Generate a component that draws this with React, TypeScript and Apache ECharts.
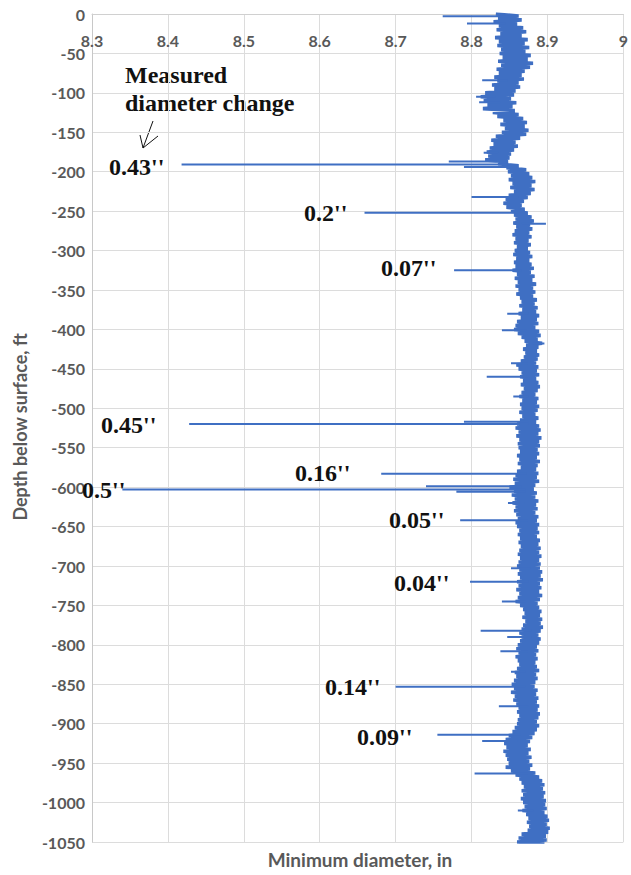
import React, { useEffect, useRef } from "react";
import * as echarts from "echarts";

// Sampling grid of the band (ft below surface): one left/right pair every 5 ft, 0..1050
const SAMPLE_STEP_FT = 5;

// Left (minimum) edge of the noisy band, in
const bandLeft = [
  8.832, 8.835, 8.829, 8.836, 8.833, 8.838, 8.831, 8.836, 8.834, 8.839,
  8.837, 8.841, 8.835, 8.839, 8.833, 8.836, 8.830, 8.834, 8.827, 8.830,
  8.818, 8.812, 8.816, 8.821, 8.815, 8.828, 8.834, 8.842, 8.838, 8.844,
  8.840, 8.832, 8.826, 8.829, 8.824, 8.820, 8.822, 8.818, 8.835, 8.846,
  8.848, 8.852, 8.849, 8.854, 8.851, 8.856, 8.849, 8.845, 8.842, 8.846,
  8.852, 8.856, 8.858, 8.855, 8.859, 8.857, 8.854, 8.858, 8.856, 8.860,
  8.857, 8.855, 8.859, 8.856, 8.858, 8.854, 8.860, 8.857, 8.861, 8.858,
  8.862, 8.859, 8.864, 8.866, 8.863, 8.867, 8.862, 8.865, 8.860, 8.858,
  8.856, 8.861, 8.866, 8.870, 8.872, 8.868, 8.871, 8.869, 8.865, 8.859,
  8.862, 8.866, 8.864, 8.868, 8.865, 8.869, 8.866, 8.863, 8.867, 8.864,
  8.866, 8.863, 8.867, 8.864, 8.860, 8.858, 8.862, 8.859, 8.863, 8.861,
  8.862, 8.864, 8.860, 8.863, 8.861, 8.865, 8.860, 8.858, 8.855, 8.857,
  8.850, 8.856, 8.853, 8.857, 8.854, 8.858, 8.856, 8.859, 8.861, 8.858,
  8.860, 8.863, 8.861, 8.864, 8.862, 8.865, 8.863, 8.861, 8.864, 8.862,
  8.860, 8.863, 8.861, 8.864, 8.860, 8.862, 8.859, 8.863, 8.861, 8.858,
  8.864, 8.868, 8.870, 8.867, 8.871, 8.868, 8.866, 8.863, 8.866, 8.864,
  8.861, 8.859, 8.862, 8.858, 8.861, 8.863, 8.860, 8.857, 8.859, 8.856,
  8.853, 8.856, 8.852, 8.857, 8.855, 8.859, 8.862, 8.860, 8.863, 8.861,
  8.860, 8.857, 8.854, 8.849, 8.845, 8.843, 8.846, 8.842, 8.845, 8.847,
  8.849, 8.845, 8.852, 8.858, 8.863, 8.866, 8.869, 8.866, 8.868, 8.865,
  8.868, 8.870, 8.867, 8.872, 8.875, 8.873, 8.876, 8.874, 8.866, 8.862,
  8.860,
];

// Right (maximum) edge of the noisy band, in
const bandRight = [
  8.862, 8.866, 8.860, 8.868, 8.872, 8.866, 8.874, 8.870, 8.876, 8.871,
  8.878, 8.874, 8.881, 8.877, 8.870, 8.866, 8.869, 8.862, 8.864, 8.858,
  8.856, 8.852, 8.859, 8.854, 8.857, 8.862, 8.868, 8.873, 8.870, 8.875,
  8.872, 8.864, 8.858, 8.861, 8.856, 8.852, 8.850, 8.848, 8.862, 8.872,
  8.876, 8.880, 8.884, 8.879, 8.883, 8.878, 8.874, 8.869, 8.866, 8.870,
  8.874, 8.879, 8.882, 8.877, 8.880, 8.876, 8.879, 8.875, 8.878, 8.874,
  8.877, 8.880, 8.876, 8.879, 8.882, 8.878, 8.883, 8.880, 8.885, 8.881,
  8.884, 8.881, 8.886, 8.883, 8.887, 8.885, 8.889, 8.886, 8.888, 8.884,
  8.889, 8.891, 8.887, 8.893, 8.888, 8.886, 8.889, 8.887, 8.885, 8.888,
  8.886, 8.889, 8.885, 8.888, 8.890, 8.887, 8.884, 8.888, 8.886, 8.889,
  8.887, 8.884, 8.888, 8.885, 8.889, 8.891, 8.888, 8.892, 8.889, 8.890,
  8.887, 8.889, 8.886, 8.890, 8.887, 8.885, 8.888, 8.886, 8.889, 8.884,
  8.882, 8.886, 8.884, 8.888, 8.885, 8.887, 8.884, 8.888, 8.886, 8.889,
  8.887, 8.889, 8.886, 8.890, 8.888, 8.891, 8.889, 8.892, 8.889, 8.891,
  8.890, 8.893, 8.891, 8.894, 8.890, 8.892, 8.889, 8.893, 8.890, 8.887,
  8.889, 8.892, 8.890, 8.893, 8.891, 8.894, 8.891, 8.888, 8.891, 8.889,
  8.886, 8.888, 8.885, 8.887, 8.884, 8.886, 8.889, 8.885, 8.887, 8.884,
  8.883, 8.887, 8.885, 8.888, 8.886, 8.889, 8.887, 8.890, 8.888, 8.886,
  8.889, 8.886, 8.883, 8.880, 8.877, 8.874, 8.878, 8.875, 8.879, 8.876,
  8.880, 8.877, 8.884, 8.889, 8.893, 8.896, 8.894, 8.897, 8.895, 8.898,
  8.897, 8.899, 8.896, 8.900, 8.902, 8.899, 8.903, 8.901, 8.898, 8.899,
  8.896,
];

// Narrow excursions (spikes) of the log: depth (ft) and reading (in)
const spikeDepth = [
  3, 12, 84, 105, 112, 176, 187, 191, 194, 232, 252, 266, 325, 380, 401, 418,
  443, 460, 485, 517, 520, 583, 599, 603, 606, 620, 642, 703, 720, 745, 782,
  790, 808, 834, 853, 878, 914, 922, 963, 1010,
];
const spikeValue = [
  8.762, 8.794, 8.814, 8.806, 8.81, 8.816, 8.77, 8.418, 8.79, 8.8, 8.659, 8.898,
  8.777, 8.847, 8.84, 8.896, 8.852, 8.82, 8.855, 8.79, 8.428, 8.681, 8.74, 8.34,
  8.78, 8.848, 8.785, 8.852, 8.798, 8.84, 8.812, 8.847, 8.838, 8.852, 8.7,
  8.836, 8.755, 8.814, 8.804, 8.861,
];

// Axis ticks
const xTicks = { min: 8.3, max: 9, interval: 0.1 };
const yTicks = { min: -1050, max: 0, interval: 50 };

// Annotations (measured diameter change at each spike)
const changeLabels = [
  "0.43''", "0.2''", "0.07''", "0.45''", "0.16''", "0.5''", "0.05''", "0.04''", "0.14''", "0.09''",
];

export default function App() {
  const ref = useRef<HTMLDivElement>(null);

  useEffect(() => {
    if (!ref.current) return;
    const chart = echarts.init(ref.current, undefined, { renderer: "svg" });

    // band: zig-zag between left and right edge readings
    const band: (number | string)[][] = [];
    for (let i = 0; i < bandLeft.length; i++) {
      band.push([bandLeft[i], -(i * SAMPLE_STEP_FT)]);
      band.push([bandRight[i], -(i * SAMPLE_STEP_FT + SAMPLE_STEP_FT / 2)]);
    }
    // spikes: from the band's middle out to the reading, separated by gaps
    const spikes: (number | string)[][] = [];
    for (let i = 0; i < spikeDepth.length; i++) {
      const k = Math.min(bandLeft.length - 1, Math.round(spikeDepth[i] / SAMPLE_STEP_FT));
      const mid = (bandLeft[k] + bandRight[k]) / 2;
      spikes.push([mid, -spikeDepth[i]]);
      spikes.push([spikeValue[i], -spikeDepth[i]]);
      spikes.push(["-", "-"]);
    }

    const annFont = "bold 24px 'Liberation Serif', 'Times New Roman', serif";
    const gray = "#595959";
    const blue = "#3f6fc3";

    // annotation positions (left x, center y) in pixels
    const annPos = [
      [109, 167], [304, 213], [381, 268], [101, 425], [295, 473],
      [82, 490], [389, 520], [394, 583], [325, 687], [357, 737],
    ];

    chart.setOption({
      animation: false,
      grid: { left: 92, right: 4, top: 14, bottom: 33, containLabel: false },
      xAxis: {
        type: "value",
        position: "top",
        min: xTicks.min,
        max: xTicks.max,
        interval: xTicks.interval,
        axisLine: { show: true, lineStyle: { color: "#d0d0d0", width: 1 } },
        axisTick: { show: false },
        axisLabel: {
          inside: true,
          margin: 18,
          color: gray,
          fontSize: 16,
          fontWeight: "bold",
          fontFamily: "Lato, 'Open Sans', sans-serif",
          formatter: (v: number) => String(Math.round(v * 10) / 10),
        },
        splitLine: { show: true, lineStyle: { color: "#dcdcdc", width: 1 } },
      },
      yAxis: {
        type: "value",
        min: yTicks.min,
        max: yTicks.max,
        interval: yTicks.interval,
        axisLine: { show: true, lineStyle: { color: "#c8c8c8", width: 1 } },
        axisTick: { show: false },
        axisLabel: {
          margin: 7,
          color: gray,
          fontSize: 16,
          fontWeight: "bold",
          fontFamily: "Lato, 'Open Sans', sans-serif",
          formatter: (v: number) => String(v),
        },
        splitLine: { show: true, lineStyle: { color: "#dcdcdc", width: 1 } },
      },
      series: [
        {
          type: "line",
          data: band,
          showSymbol: false,
          symbol: "none",
          lineStyle: { color: blue, width: 3.6 },
          z: 3,
        },
        {
          type: "line",
          data: spikes,
          showSymbol: false,
          symbol: "none",
          connectNulls: false,
          lineStyle: { color: blue, width: 2 },
          z: 4,
        },
      ],
      graphic: [
        {
          type: "text",
          x: 125,
          y: 75,
          style: { text: "Measured", font: annFont, fill: "#111", verticalAlign: "middle" },
        },
        {
          type: "text",
          x: 125,
          y: 103,
          style: { text: "diameter change", font: annFont, fill: "#111", verticalAlign: "middle" },
        },
        {
          type: "polyline",
          shape: { points: [[153, 121], [143, 148]] },
          style: { stroke: "#111", lineWidth: 1, fill: null },
        },
        {
          type: "polyline",
          shape: { points: [[140, 135], [143, 148], [158, 136]] },
          style: { stroke: "#111", lineWidth: 1, fill: null },
        },
        ...changeLabels.map((t, i) => ({
          type: "text",
          x: annPos[i][0],
          y: annPos[i][1],
          style: { text: t, font: annFont, fill: "#111", verticalAlign: "middle" },
          z: 10,
        })),
        {
          type: "text",
          x: 360,
          y: 859,
          style: {
            text: "Minimum diameter, in",
            font: "bold 19px Lato, 'Open Sans', sans-serif",
            fill: gray,
            align: "center",
            verticalAlign: "middle",
          },
        },
        {
          type: "text",
          x: 20,
          y: 427,
          rotation: Math.PI / 2,
          style: {
            text: "Depth below surface, ft",
            font: "bold 18px Lato, 'Open Sans', sans-serif",
            fill: gray,
            align: "center",
            verticalAlign: "middle",
          },
        },
      ],
    });

    return () => chart.dispose();
  }, []);

  return (
    <div
      ref={ref}
      style={{ position: "fixed", left: 0, top: 0, width: 631, height: 875, background: "#fff" }}
    />
  );
}
